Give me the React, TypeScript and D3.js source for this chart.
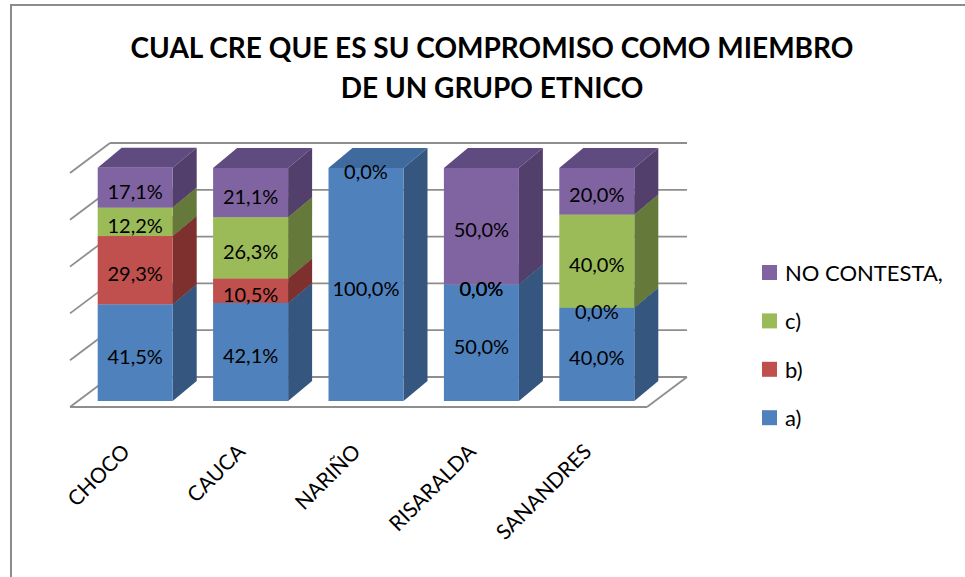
import React from 'react';
import * as d3 from 'd3';

// data (percent)
const categories = ['CHOCO', 'CAUCA', 'NARIÑO', 'RISARALDA', 'SANANDRES'];
const serieA = [41.5, 42.1, 100, 50, 40];
const serieB = [29.3, 10.5, 0, 0, 0];
const serieC = [12.2, 26.3, 0, 0, 40];
const noContesta = [17.1, 21.1, 0, 50, 20];
const seriesNames = ['a)', 'b)', 'c)', 'NO CONTESTA,'];
const gridTicks = [0, 20, 40, 60, 80, 100];

const palette = [
  { front: '#4f81bd', side: '#34567f', top: '#3e6a9d' },
  { front: '#c0504d', side: '#7d302e', top: '#9a3e3c' },
  { front: '#9bbb59', side: '#65793a', top: '#7e984a' },
  { front: '#8064a2', side: '#533f6b', top: '#5f4b80' },
];

const W = 965;
const H = 577;
const FONT = 'Lato, "Open Sans", sans-serif';

// floor front edge, wall depth, bar depth
const plotLeft = 70;
const plotRight = 647;
const wallDx = 40;
const wallDy = -30;
const barOffX = 7.5;
const barDx = 24;
const barDy = -20;

const fmt = (v: number) => v.toFixed(1).replace('.', ',') + '%';

export default function App() {
  const series = [serieA, serieB, serieC, noContesta];

  const x = d3.scaleBand<string>()
    .domain(categories)
    .range([plotLeft, plotRight])
    .paddingInner(0.35)
    .paddingOuter(0.175);

  // front face of the bars and back wall
  const yBar = d3.scaleLinear().domain([0, 100]).range([401, 168]);
  const yWall = d3.scaleLinear().domain([0, 100]).range([377, 143]);

  const rows = categories.map((c, i) => {
    const r: any = { cat: c };
    series.forEach((s, k) => (r['s' + k] = s[i]));
    return r;
  });
  const stacked = d3.stack().keys(['s0', 's1', 's2', 's3'])(rows);

  const bw = x.bandwidth();

  return (
    <svg width={W} height={H} style={{ position: 'absolute', left: 0, top: 0 }}>
      <rect x={0} y={0} width={W} height={H} fill="#fff" />
      <rect x={11} y={5} width={W + 20} height={H + 20} fill="none" stroke="#8c8c8c" strokeWidth={2} />

      <text x={492} y={58} textAnchor="middle" fontFamily={FONT} fontWeight="bold" fontSize={28}>
        CUAL CRE QUE ES SU COMPROMISO COMO MIEMBRO
      </text>
      <text x={492} y={98} textAnchor="middle" fontFamily={FONT} fontWeight="bold" fontSize={28}>
        DE UN GRUPO ETNICO
      </text>

      {/* walls and gridlines */}
      <g stroke="#8e8e8e" strokeWidth={1.8} fill="none">
        {gridTicks.map((t) => (
          <g key={t}>
            <line x1={plotLeft} y1={yWall(t) - wallDy} x2={plotLeft + wallDx} y2={yWall(t)} />
            <line x1={plotLeft + wallDx} y1={yWall(t)} x2={plotRight + wallDx} y2={yWall(t)} />
          </g>
        ))}
        <line x1={plotLeft} y1={yWall(0) - wallDy} x2={plotRight} y2={yWall(0) - wallDy} />
        <line x1={plotRight} y1={yWall(0) - wallDy} x2={plotRight + wallDx} y2={yWall(0)} />
      </g>

      {/* bars */}
      {categories.map((c, i) => {
        const x0 = (x(c) as number) + barOffX;
        return (
          <g key={c}>
            {stacked.map((layer, k) => {
              const [lo, hi] = layer[i];
              if (hi - lo <= 0) return null;
              const yb = yBar(lo);
              const yt = yBar(hi);
              const col = palette[k];
              return (
                <g key={k}>
                  <polygon
                    points={`${x0},${yt} ${x0 + bw},${yt} ${x0 + bw + barDx},${yt + barDy} ${x0 + barDx},${yt + barDy}`}
                    fill={col.top}
                  />
                  <polygon
                    points={`${x0 + bw},${yb} ${x0 + bw + barDx},${yb + barDy} ${x0 + bw + barDx},${yt + barDy} ${x0 + bw},${yt}`}
                    fill={col.side}
                  />
                  <rect x={x0} y={yt} width={bw} height={yb - yt} fill={col.front} />
                </g>
              );
            })}
          </g>
        );
      })}

      {/* data labels; zero labels at the very top only for the last series */}
      <g fontFamily={FONT} fontSize={20} textAnchor="middle" fill="#000">
        {categories.map((c, i) => {
          const cx = (x(c) as number) + barOffX + bw / 2;
          return stacked.map((layer, k) => {
            const [lo, hi] = layer[i];
            if (hi === lo && hi >= 100 && k < stacked.length - 1) return null;
            return (
              <text key={c + k} x={cx} y={(yBar(lo) + yBar(hi)) / 2 + 3} dominantBaseline="central">
                {fmt(series[k][i])}
              </text>
            );
          });
        })}
      </g>

      {/* category labels */}
      <g fontFamily={FONT} fontSize={21} textAnchor="end">
        {categories.map((c) => {
          const ax = (x(c) as number) + barOffX + bw / 2 - 4;
          const ay = 453;
          return (
            <text key={c} x={ax} y={ay} transform={`rotate(-45 ${ax} ${ay})`}>
              {c}
            </text>
          );
        })}
      </g>

      {/* legend */}
      <g fontFamily={FONT} fontSize={22}>
        {[3, 2, 1, 0].map((k, j) => {
          const ly = 272.5 + j * 48.4;
          return (
            <g key={k}>
              <rect x={762} y={ly - 7.5} width={15} height={15} fill={palette[k].front} />
              <text x={785} y={ly} dominantBaseline="central">
                {seriesNames[k]}
              </text>
            </g>
          );
        })}
      </g>
    </svg>
  );
}
